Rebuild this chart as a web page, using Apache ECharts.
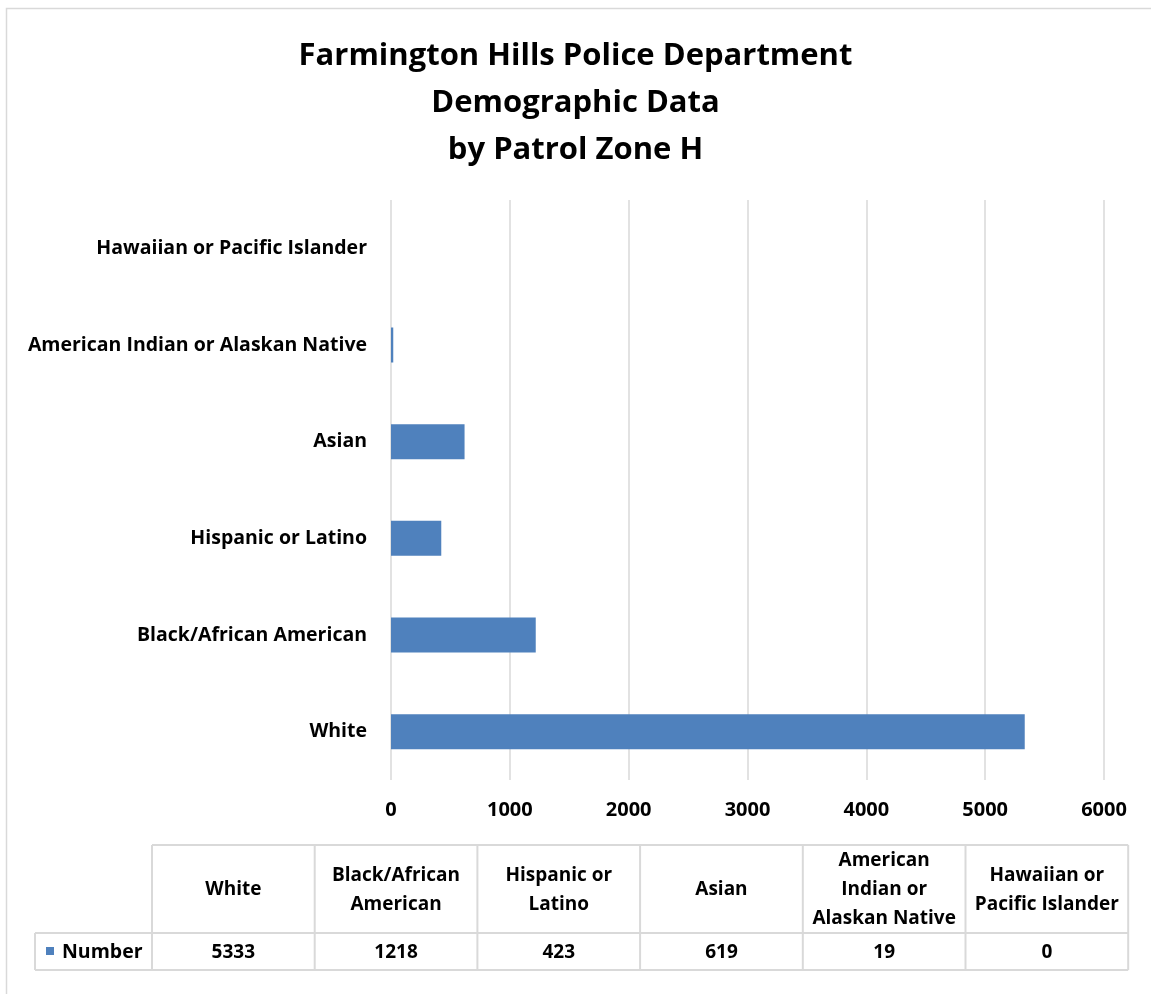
<!DOCTYPE html>
<html>
<head>
<meta charset="utf-8">
<script src="https://cdn.jsdelivr.net/npm/echarts@6/dist/echarts.min.js"></script>
<style>html,body{margin:0;padding:0;background:#fff}#c{width:1151px;height:994px}</style>
</head>
<body>
<div id="c"></div>
<script>
const categories = ['White', 'Black/African American', 'Hispanic or Latino', 'Asian', 'American Indian or Alaskan Native', 'Hawaiian or Pacific Islander'];
const tableHeaders = ['White', 'Black/African\nAmerican', 'Hispanic or\nLatino', 'Asian', 'American\nIndian or\nAlaskan Native', 'Hawaiian or\nPacific Islander'];
const seriesName = 'Number';
const values = [5333, 1218, 423, 619, 19, 0];
const xTicks = [0, 1000, 2000, 3000, 4000, 5000, 6000];
const titleLines = ['Farmington Hills Police Department', 'Demographic Data', 'by Patrol Zone H'];

const FONT = '"Open Sans", "Noto Sans", sans-serif';
const BAR = '#4f81bd';
const GRID = '#d9d9d9';

// table layout
const colX0 = 152, colW = 162.7, rowTop = 845, rowMid = 933, rowBot = 970, labelX0 = 35;
const graphics = [];
graphics.push({type:'rect', shape:{x:6.5, y:8.5, width:1160, height:1000}, style:{fill:'none', stroke:GRID, lineWidth:1.5}, silent:true});
const tLine = (x1,y1,x2,y2)=>graphics.push({type:'line', shape:{x1,y1,x2,y2}, style:{stroke:GRID, lineWidth:2}, silent:true});
const nCols = categories.length;
const colRight = colX0 + colW*nCols;
tLine(colX0, rowTop, colRight, rowTop);
tLine(labelX0, rowMid, colRight, rowMid);
tLine(labelX0, rowBot, colRight, rowBot);
tLine(labelX0, rowMid, labelX0, rowBot);
for (let i = 0; i <= nCols; i++) tLine(colX0 + colW*i, rowTop, colX0 + colW*i, rowBot);
tableHeaders.forEach((h, i) => {
  graphics.push({type:'text', x: colX0 + colW*(i+0.5), y:(rowTop+rowMid)/2 + 1,
    style:{text:h, font:'bold 19px ' + FONT, fill:'#000', align:'center', verticalAlign:'middle', lineHeight:29}});
  graphics.push({type:'text', x: colX0 + colW*(i+0.5), y:(rowMid+rowBot)/2 + 1,
    style:{text:String(values[i]), font:'bold 19px ' + FONT, fill:'#000', align:'center', verticalAlign:'middle'}});
});
graphics.push({type:'rect', shape:{x:46, y:947, width:8, height:8}, style:{fill:BAR}, silent:true});
graphics.push({type:'text', x:62, y:(rowMid+rowBot)/2 + 1, style:{text:seriesName, font:'bold 19.5px ' + FONT, fill:'#000', align:'left', verticalAlign:'middle'}});

const chart = echarts.init(document.getElementById('c'), null, {renderer:'canvas'});
chart.setOption({
  backgroundColor:'#fff',
  animation:false,
  title:{
    text: titleLines.join('\n'), left:'center', top:28,
    textStyle:{fontFamily:FONT, fontWeight:'bold', fontSize:31, color:'#000', lineHeight:47}
  },
  grid:{left:391, right:47, top:200, bottom:214, containLabel:false},
  xAxis:{
    type:'value', min:xTicks[0], max:xTicks[xTicks.length-1], interval:xTicks[1]-xTicks[0],
    axisLine:{show:false}, axisTick:{show:false},
    splitLine:{show:true, lineStyle:{color:GRID, width:1.5}},
    axisLabel:{margin:20, fontFamily:FONT, fontWeight:'bold', fontSize:20, color:'#000', formatter:v=>String(v)}
  },
  yAxis:{
    type:'category', data:categories,
    axisLine:{show:false}, axisTick:{show:false},
    axisLabel:{margin:24, fontFamily:FONT, fontWeight:'bold', fontSize:19.5, color:'#000'}
  },
  series:[{
    name:seriesName, type:'bar', data:values, barWidth:35,
    itemStyle:{color:BAR}, silent:true
  }],
  graphic: graphics
});
</script>
</body>
</html>
